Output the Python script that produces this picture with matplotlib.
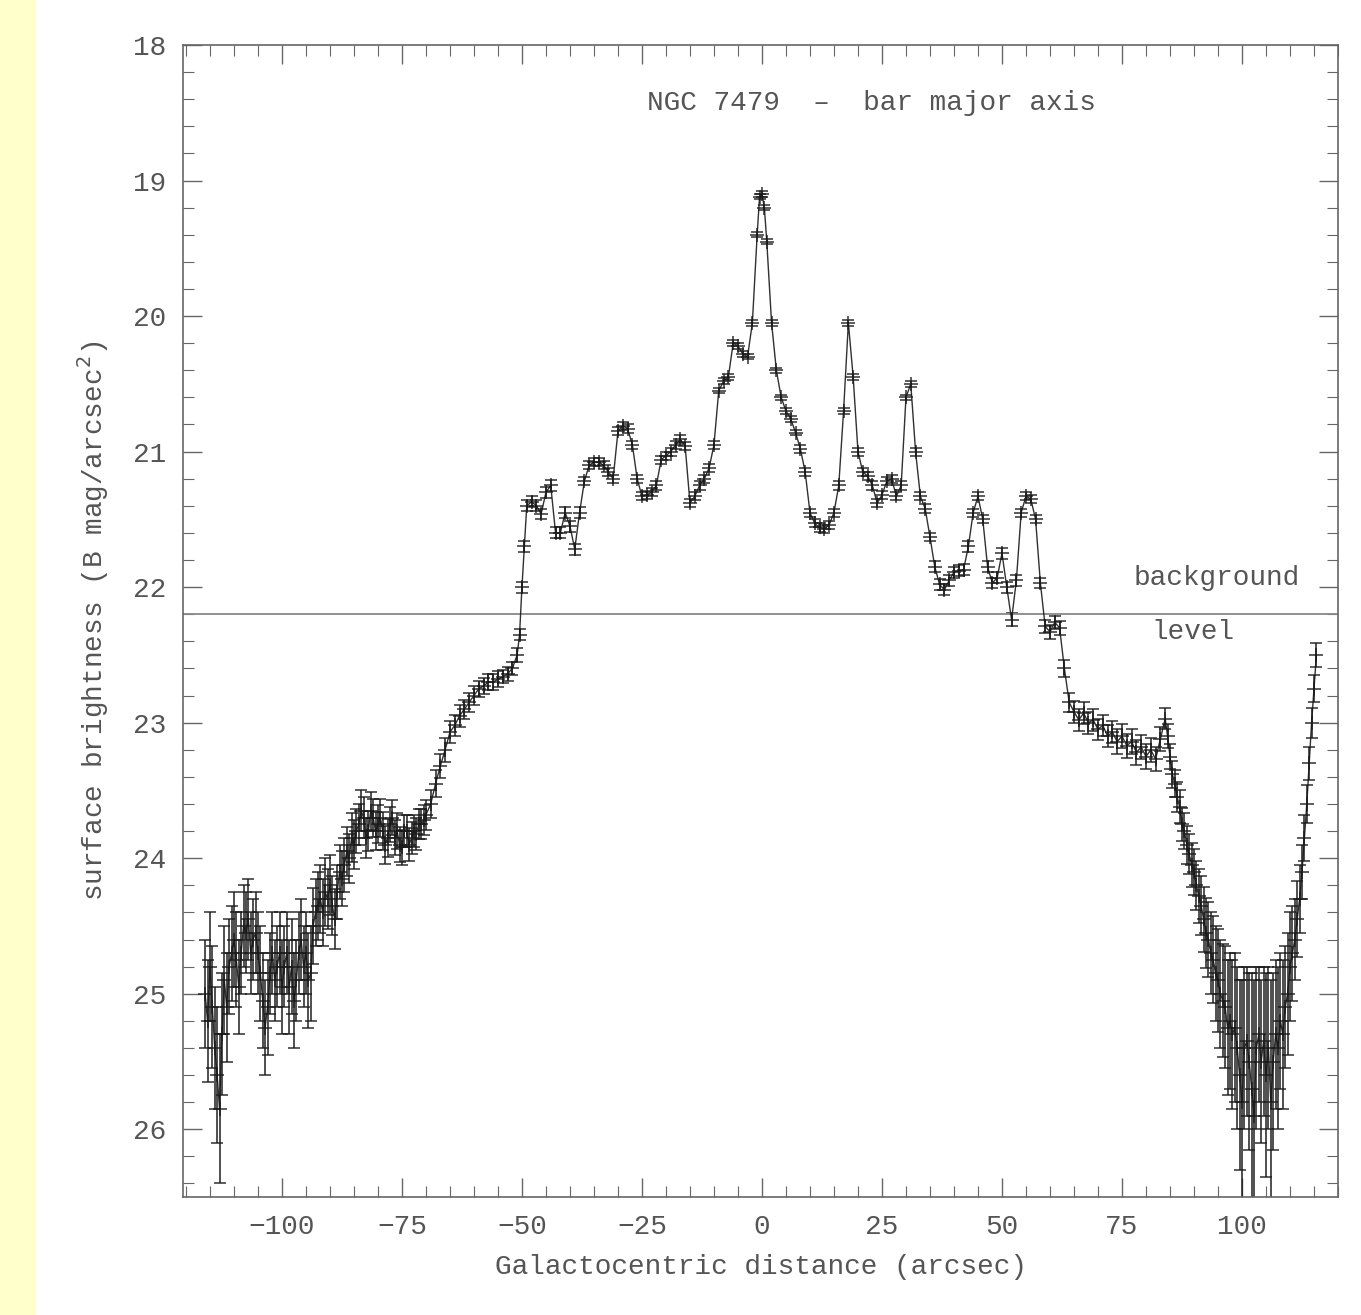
import matplotlib
matplotlib.use("Agg")
import matplotlib.pyplot as plt
from matplotlib.patches import Rectangle
from matplotlib.ticker import MultipleLocator


# profile: galactocentric distance (arcsec),
# surface brightness (B mag/arcsec^2) and its error, in three stretches

# noisy outer part, left side
left_x = [
    -116, -115.5, -115, -114.5, -114, -113.5, -113, -112.5, -112, -111.5, -111, -110.5,
    -110, -109.5, -109, -108.5, -108, -107.5, -107, -106.5, -106, -105.5, -105, -104.5,
    -104, -103.5, -103, -102.5, -102, -101.5, -101, -100.5, -100, -99.5, -99, -98.5,
    -98, -97.5, -97, -96.5, -96, -95.5, -95, -94.5, -94,
    -93.5, -93, -92.5, -92, -91.5, -91, -90.5, -90, -89.5, -89, -88.5, -88, -87.5, -87,
    -86.5, -86, -85.5, -85,
    -84.5, -84, -83.5, -83, -82.5, -82, -81.5, -81, -80.5, -80, -79.5, -79, -78.5, -78,
    -77.5, -77, -76.5, -76, -75.5, -75, -74.5, -74, -73.5, -73, -72.5, -72, -71.5, -71,
    -70.5, -70,
]
left_mag = [
    25.0, 25.2, 24.8, 25.1, 25.4, 25.6, 25.85, 25.3, 24.9, 25.1, 24.8, 24.7,
    24.6, 24.75, 24.95, 24.7, 24.5, 24.55, 24.45, 24.7, 24.6, 24.55, 24.7, 24.85,
    25.05, 25.25, 25.1, 24.85, 24.7, 24.9, 24.8, 24.7, 24.95, 24.8, 24.7, 24.95,
    24.8, 25.05, 24.9, 24.7, 24.6, 24.8, 24.7, 24.9, 24.85,
    24.5, 24.4, 24.35, 24.3, 24.4, 24.25, 24.3, 24.2, 24.35, 24.45, 24.25, 24.1, 24.15, 24.05,
    23.95, 24.0, 23.85, 23.9,
    23.8, 23.75, 23.65, 23.7, 23.85, 23.8, 23.65, 23.7, 23.8, 23.75, 23.7, 23.8, 23.9, 23.85,
    23.75, 23.7, 23.85, 23.8, 23.9, 23.92, 23.8, 23.8, 23.9, 23.85, 23.8, 23.82, 23.75, 23.75,
    23.72, 23.68,
]
left_err = [
    0.4, 0.45, 0.4, 0.45, 0.45, 0.5, 0.55, 0.45, 0.4, 0.4, 0.35, 0.35,
    0.35, 0.35, 0.35, 0.3, 0.3, 0.3, 0.3, 0.3, 0.3, 0.3, 0.3, 0.35,
    0.35, 0.35, 0.35, 0.3, 0.3, 0.3, 0.3, 0.3, 0.35, 0.3, 0.3, 0.35,
    0.35, 0.35, 0.3, 0.3, 0.3, 0.3, 0.3, 0.35, 0.35,
    0.28, 0.25, 0.25, 0.25, 0.25, 0.25, 0.22, 0.22, 0.22, 0.22, 0.2, 0.2, 0.2, 0.2,
    0.18, 0.18, 0.18, 0.18,
    0.16, 0.15, 0.15, 0.15, 0.15, 0.15, 0.14, 0.14, 0.14, 0.14, 0.14, 0.14, 0.14, 0.14,
    0.13, 0.13, 0.13, 0.13, 0.13, 0.13, 0.12, 0.12, 0.12, 0.12, 0.12, 0.12, 0.11, 0.11,
    0.11, 0.11,
]

# bright inner part
inner_x = [
    -69, -68, -67, -66, -65, -64, -63, -62, -61, -60, -59, -58, -57, -56, -55, -54, -53, -52, -51,
    -50.5, -50, -49.5,
    -49, -48, -47, -46, -45, -44, -43, -42, -41, -40, -39, -38, -37, -36, -35, -34, -33, -32,
    -31, -30, -29, -28, -27, -26, -25, -24, -23, -22, -21, -20, -19, -18, -17, -16, -15, -14,
    -13, -12, -11, -10, -9, -8, -7, -6, -5, -4, -3, -2, -1,
    -0.5, 0, 0.5,
    1, 2, 3, 4, 5, 6, 7, 8, 9, 10, 11, 12, 13, 14, 15, 16, 17, 18, 19, 20,
    21, 22, 23, 24, 25, 26, 27, 28, 29, 30, 31, 32, 33, 34, 35, 36, 37, 38, 39, 40,
    41, 42, 43, 44, 45, 46, 47, 48, 49, 50, 51, 52, 53, 54, 55, 56, 57, 58, 59, 60,
    61, 62, 63, 64, 65, 66, 67, 68, 69, 70, 71, 72, 73, 74, 75, 76, 77, 78, 79, 80,
    81, 82, 83,
]
inner_mag = [
    23.6, 23.45, 23.32, 23.2, 23.07, 23.02, 22.95, 22.9, 22.85, 22.8, 22.75, 22.73, 22.7, 22.7,
    22.68, 22.66, 22.64, 22.6, 22.5,
    22.35, 22.0, 21.7,
    21.4, 21.37, 21.4, 21.46, 21.3, 21.25, 21.6, 21.6, 21.45, 21.55, 21.72, 21.45, 21.22, 21.1,
    21.08, 21.08, 21.1, 21.15, 21.2, 20.85, 20.81, 20.83, 20.95, 21.2, 21.33, 21.32, 21.3, 21.25,
    21.06, 21.03, 21.0, 20.95, 20.91, 20.96, 21.38, 21.33, 21.25, 21.2, 21.12, 20.95, 20.55, 20.48,
    20.45, 20.2, 20.22, 20.28, 20.3, 20.05, 19.4,
    19.12, 19.1, 19.2,
    19.45, 20.05, 20.4, 20.6, 20.7, 20.76, 20.86, 20.98, 21.15, 21.45,
    21.53, 21.56, 21.57, 21.54, 21.45, 21.25, 20.7, 20.05, 20.45, 21.0,
    21.15, 21.18, 21.25, 21.38, 21.32, 21.22, 21.2, 21.33, 21.25, 20.6,
    20.5, 21.0, 21.33, 21.42, 21.63, 21.85, 21.98, 22.02, 21.95, 21.89,
    21.88, 21.87, 21.7, 21.45, 21.33, 21.5, 21.85, 21.97, 21.93, 21.75,
    22.0, 22.24, 21.95, 21.45, 21.33, 21.35, 21.5, 21.97, 22.29, 22.33,
    22.26, 22.3, 22.6, 22.85, 22.92, 22.98, 22.93, 23.0, 22.98, 23.05,
    23.02, 23.1, 23.07, 23.14, 23.1, 23.17, 23.14, 23.22, 23.18, 23.25,
    23.2, 23.27, 23.12,
]
inner_err = [
    0.1, 0.1, 0.09, 0.09, 0.08, 0.08, 0.08, 0.07, 0.07, 0.07, 0.06, 0.06, 0.06, 0.06,
    0.06, 0.05, 0.05, 0.05, 0.05,
    0.04, 0.04, 0.04,
    0.04, 0.04, 0.04, 0.04, 0.04, 0.04, 0.04, 0.04, 0.04, 0.04, 0.04, 0.04, 0.03, 0.03,
    0.03, 0.03, 0.03, 0.03, 0.03, 0.03, 0.03, 0.03, 0.03, 0.03, 0.03, 0.03, 0.03, 0.03,
    0.03, 0.03, 0.03, 0.03, 0.03, 0.03, 0.03, 0.03, 0.03, 0.03, 0.03, 0.03, 0.02, 0.02,
    0.02, 0.02, 0.02, 0.02, 0.02, 0.02, 0.02,
    0.02, 0.02, 0.02,
    0.02, 0.02, 0.02, 0.02, 0.02, 0.02, 0.02, 0.03, 0.03, 0.03,
    0.03, 0.03, 0.03, 0.03, 0.03, 0.03, 0.02, 0.02, 0.02, 0.03,
    0.03, 0.03, 0.03, 0.03, 0.03, 0.03, 0.03, 0.03, 0.03, 0.02,
    0.02, 0.03, 0.03, 0.03, 0.03, 0.04, 0.04, 0.04, 0.04, 0.04,
    0.04, 0.04, 0.04, 0.03, 0.03, 0.03, 0.04, 0.04, 0.04, 0.04,
    0.04, 0.05, 0.04, 0.03, 0.03, 0.03, 0.03, 0.04, 0.05, 0.05,
    0.05, 0.05, 0.06, 0.07, 0.08, 0.08, 0.08, 0.08, 0.08, 0.08,
    0.08, 0.08, 0.08, 0.09, 0.09, 0.09, 0.09, 0.09, 0.09, 0.09,
    0.09, 0.09, 0.09,
]

# noisy outer part, right side
right_x = [
    84, 84.5, 85, 85.5, 86, 86.5, 87, 87.5, 88,
    88.5, 89, 89.5, 90, 90.5, 91, 91.5, 92, 92.5, 93, 93.5, 94, 94.5, 95,
    95.5, 96, 96.5, 97, 97.5, 98, 98.5, 99,
    99.5, 100, 100.5, 101, 101.5, 102, 102.5, 103, 103.5, 104, 104.5, 105, 105.5, 106,
    106.5, 107, 107.5, 108, 108.5, 109, 109.5, 110,
    110.5, 111, 111.5, 112, 112.5, 113, 113.5, 114, 114.5, 115, 115.5,
]
right_mag = [
    22.97, 23.1, 23.25, 23.38, 23.45, 23.55, 23.62, 23.75, 23.8,
    23.9, 23.97, 24.05, 24.1, 24.2, 24.28, 24.35, 24.45, 24.55, 24.6, 24.7, 24.75, 24.85, 24.9,
    25.0, 25.05, 25.1, 25.25, 25.2, 25.3, 25.25, 25.4,
    25.6, 25.8, 25.4, 25.35, 25.5, 25.7, 25.9, 25.4, 25.3, 25.5, 25.35, 25.6, 25.4, 25.8,
    25.5, 25.3, 25.4, 25.2, 25.3, 25.1, 25.0, 24.8,
    24.7, 24.6, 24.45, 24.3, 24.1, 23.85, 23.6, 23.3, 23.0, 22.75, 22.5,
]
right_err = [
    0.08, 0.09, 0.09, 0.1, 0.1, 0.11, 0.12, 0.12, 0.13,
    0.14, 0.15, 0.16, 0.17, 0.18, 0.2, 0.22, 0.24, 0.26, 0.28, 0.3, 0.32, 0.35, 0.38,
    0.4, 0.42, 0.45, 0.5, 0.5, 0.55, 0.55, 0.6,
    0.7, 0.9, 0.6, 0.55, 0.65, 0.85, 1.0, 0.6, 0.5, 0.6, 0.55, 0.75, 0.6, 0.9,
    0.65, 0.55, 0.6, 0.5, 0.55, 0.45, 0.45, 0.4,
    0.35, 0.3, 0.28, 0.25, 0.2, 0.17, 0.14, 0.12, 0.11, 0.1, 0.09,
]

background_level = 22.2

distance = left_x + inner_x + right_x
brightness = left_mag + inner_mag + right_mag
error = left_err + inner_err + right_err
assert len(distance) == len(brightness) == len(error)

ink = "#1a1a1a"
text_grey = "#555555"
font = ["Liberation Mono", "DejaVu Sans Mono"]

fig = plt.figure(figsize=(13.61, 13.15), dpi=100)
fig.patches.append(Rectangle((0, 0), 35 / 1361, 1, transform=fig.transFigure,
                             color="#ffffcc", zorder=0))
ax = fig.add_axes([0.1345, 0.0897, 0.8486, 0.8761])

ax.errorbar(distance, brightness, yerr=error, fmt="+-", color=ink, ms=10, mew=1.1,
            lw=1.0, elinewidth=1.2, capsize=4, capthick=1.1, alpha=0.9)
ax.axhline(background_level, color="#888888", lw=1.3)

ax.set_xlim(-120.6, 120)
ax.set_ylim(26.5, 18)
ax.xaxis.set_major_locator(MultipleLocator(25))
ax.xaxis.set_minor_locator(MultipleLocator(5))
ax.yaxis.set_major_locator(MultipleLocator(1))
ax.yaxis.set_minor_locator(MultipleLocator(0.2))
ax.tick_params(which="both", direction="in", top=True, right=True,
               colors="#666666", labelcolor=text_grey, labelsize=20, pad=12)
ax.tick_params(which="major", length=14, width=1.0)
ax.tick_params(which="minor", length=8, width=0.8)
for lab in ax.get_xticklabels() + ax.get_yticklabels():
    lab.set_family(font)
for spine in ax.spines.values():
    spine.set_color("#666666")
    spine.set_linewidth(1.2)

ax.set_xlabel("Galactocentric distance (arcsec)", fontsize=20, color=text_grey,
              family=font, labelpad=10)
ax.set_ylabel("surface brightness (B mag/arcsec$^2$)", fontsize=20, color=text_grey,
              family=font, labelpad=16)

ax.text(22.9, 18.43, "NGC 7479  \u2013  bar major axis", fontsize=20, color=text_grey,
        family=font, ha="center", va="center")
ax.text(94.8, 21.93, "background", fontsize=20, color=text_grey, family=font,
        ha="center", va="center")
ax.text(89.8, 22.33, "level", fontsize=20, color=text_grey, family=font,
        ha="center", va="center")

fig.savefig("out.png", dpi=100, facecolor="white")
